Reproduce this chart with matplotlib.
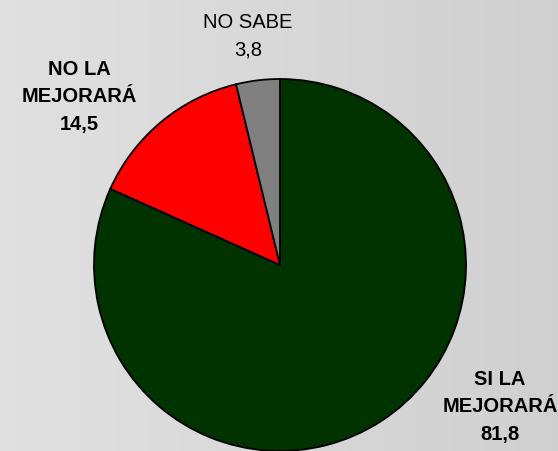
import matplotlib
matplotlib.use("Agg")
import matplotlib.pyplot as plt
import numpy as np

categories = ["SI LA\nMEJORARÁ", "NO LA\nMEJORARÁ", "NO SABE"]
values = [81.8, 14.5, 3.8]
value_labels = ["81,8", "14,5", "3,8"]
colors = ["#003300", "#ff0000", "#808080"]

W, H = 558, 452
fig = plt.figure(figsize=(W / 100, H / 100), dpi=100)

# background gradient
bg = fig.add_axes([0, 0, 1, 1])
grad = np.linspace(0.88, 0.815, 256).reshape(1, -1)
bg.imshow(np.dstack([grad, grad, grad]), aspect="auto", extent=[0, 1, 0, 1])
bg.set_axis_off()

ax = fig.add_axes([0, 0, 1, 1])
ax.patch.set_alpha(0)
cx, cy, r = 280, H - 266, 186
ax.pie(values, colors=colors, startangle=90, counterclock=False,
       center=(cx, cy), radius=r,
       wedgeprops=dict(edgecolor="black", linewidth=1.3))
ax.set_xlim(0, W)
ax.set_ylim(0, H)
ax.set_aspect("auto")
ax.set_axis_off()

font = "Liberation Sans"
# label anchor: (x center, first baseline from top), line step in px
label_pos = [(500, 385), (79, 75), (248, 28)]
bold = [True, True, False]
step = 27.5
for i in range(3):
    lines = categories[i].split("\n") + [value_labels[i]]
    x, y0 = label_pos[i]
    for k, line in enumerate(lines):
        ax.text(x, H - (y0 + k * step), line, ha="center", va="baseline",
                fontsize=14.5, family=font,
                fontweight="bold" if bold[i] else "normal")

fig.savefig("out.png", dpi=100)
